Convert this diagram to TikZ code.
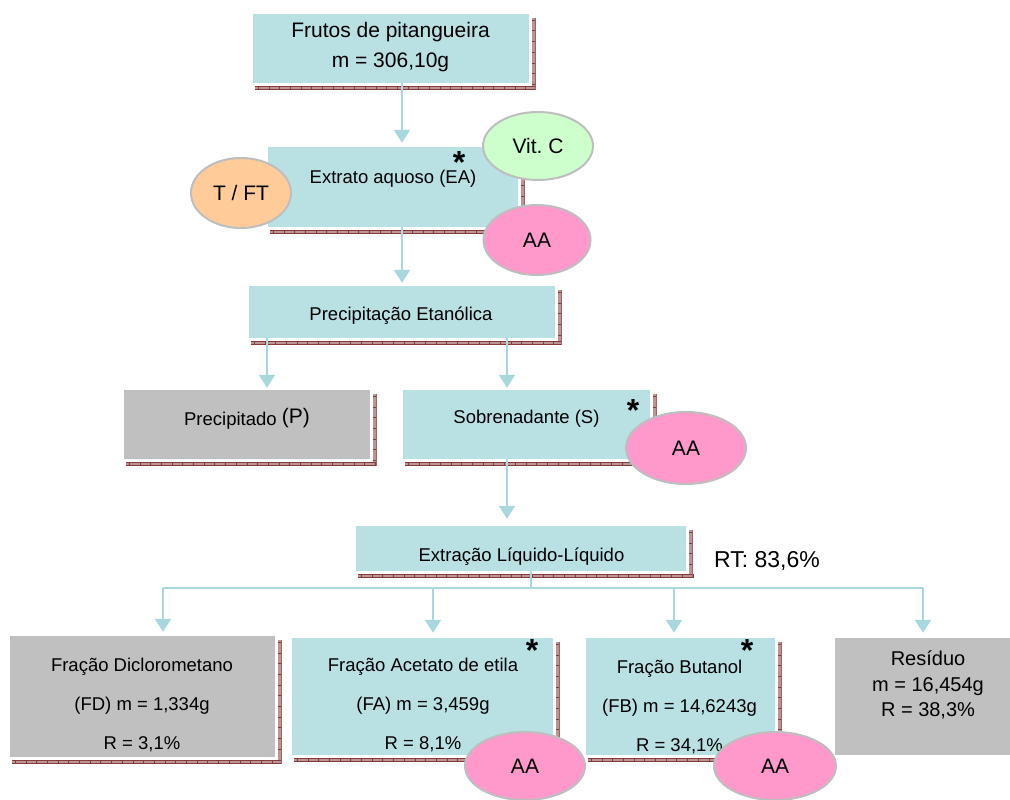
\documentclass[tikz,border=0pt]{standalone}
\usepackage{fontspec}
\setmainfont{Liberation Sans}
\frenchspacing
\usetikzlibrary{arrows.meta,shapes.geometric}
\definecolor{boxc}{HTML}{B9E0E3}
\definecolor{grayc}{HTML}{C0C0C0}
\definecolor{arrc}{HTML}{A8D8DD}
\definecolor{shfill}{HTML}{BC9494}
\definecolor{shdark}{HTML}{863C3C}
\definecolor{ellb}{HTML}{BEBEBE}
\definecolor{orangec}{HTML}{FFCC99}
\definecolor{greenc}{HTML}{CCFFCC}
\definecolor{pinkc}{HTML}{FF99CC}
\newcommand\fsA{\fontsize{18.5}{22}\selectfont}
\newcommand\fsB{\fontsize{21}{25}\selectfont}
\newcommand\boxshadow[1]{%
  \fill[shfill] ([xshift=2.5pt,yshift=-2.5pt]#1.south west) rectangle ([xshift=6.5pt,yshift=-6.5pt]#1.south east);
  \fill[shfill] ([xshift=2.5pt,yshift=-4pt]#1.north east) rectangle ([xshift=6.5pt,yshift=-6.5pt]#1.south east);
  \draw[shdark, line width=4pt, dash pattern=on 0.9pt off 9.8pt] ([xshift=5pt,yshift=-4.5pt]#1.south west) -- ([xshift=6.5pt,yshift=-4.5pt]#1.south east);
  \draw[shdark, line width=4pt, dash pattern=on 0.9pt off 9.8pt] ([xshift=4.5pt,yshift=-6pt]#1.north east) -- ([xshift=4.5pt,yshift=-2.5pt]#1.south east);
  \draw[shdark, line width=0.8pt] ([xshift=2.5pt,yshift=-2.9pt]#1.south west) -- ([xshift=6.5pt,yshift=-2.9pt]#1.south east);
  \draw[shdark, line width=0.8pt] ([xshift=2.5pt,yshift=-6.1pt]#1.south west) -- ([xshift=6.5pt,yshift=-6.1pt]#1.south east);
  \draw[shdark!80, line width=0.6pt] ([xshift=6.1pt,yshift=-4pt]#1.north east) -- ([xshift=6.1pt,yshift=-6.5pt]#1.south east);
}
\begin{document}
\begin{tikzpicture}[x=1pt,y=-1pt,
  cbox/.style={rectangle, fill=boxc, inner sep=0pt},
  gbox/.style={rectangle, fill=grayc, inner sep=0pt},
  bubble/.style={ellipse, draw=ellb, line width=2pt, inner sep=0pt, font=\fsB},
  conn/.style={draw=arrc, line width=2pt, -{Triangle[width=16pt,length=13pt]}},
  busline/.style={draw=arrc, line width=2pt},
  starmark/.style={font=\fontsize{32}{32}\selectfont\bfseries, anchor=base, inner sep=0pt},
  txt/.style={inner sep=0pt, align=center}]
\useasboundingbox (0,0) rectangle (1010,800);
\clip (0,0) rectangle (1010,800);

% boxes
\node[cbox, minimum width=276pt, minimum height=69pt] (fr) at (391,48.5) {};
\node[cbox, minimum width=250pt, minimum height=80pt] (ea) at (393,187) {};
\node[cbox, minimum width=306pt, minimum height=52pt] (pe) at (402,312) {};
\node[gbox, minimum width=246pt, minimum height=69pt] (pp) at (247,424.5) {};
\node[cbox, minimum width=247pt, minimum height=69pt] (sb) at (526.5,424.5) {};
\node[cbox, minimum width=330pt, minimum height=45pt] (ex) at (521,548.5) {};
\node[gbox, minimum width=265pt, minimum height=121pt] (fd) at (142.5,696.5) {};
\node[cbox, minimum width=261pt, minimum height=117pt] (fa) at (422.5,696.5) {};
\node[cbox, minimum width=189pt, minimum height=117pt] (fb) at (680.5,696.5) {};
\node[gbox, minimum width=186pt, minimum height=117pt] (rs) at (928,696.5) {};

% shadows
\boxshadow{fr}
\boxshadow{ea}
\boxshadow{pe}
\boxshadow{pp}
\boxshadow{sb}
\boxshadow{ex}
\boxshadow{fd}
\boxshadow{fa}
\boxshadow{fb}

% texts
\node[txt, font=\fontsize{21}{30}\selectfont] (frt) at (390.5,46.6) {Frutos de pitangueira\\m = 306,10g};
\node[txt, font=\fsA] (eat) at (393,179) {Extrato aquoso (EA)};
\node[txt, font=\fsA] (pet) at (401,316) {Precipitação Etanólica};
\node[txt, font=\fsA] (ppt) at (247,419) {Precipitado \raisebox{2pt}{\fsB(P)}};
\node[txt, font=\fsA] (sbt) at (526.5,419) {Sobrenadante (S)};
\node[txt, font=\fsA] (ext) at (521.5,557) {Extração Líquido-Líquido};
\node[txt, font=\fontsize{23}{27}\selectfont] (rt) at (767,561) {RT: 83,6\%};
\node[txt, font=\fontsize{18.5}{39}\selectfont] (fdt) at (142,705) {Fração Diclorometano\\(FD) m = 1,334g\\R = 3,1\%};
\node[txt, font=\fontsize{18.5}{39}\selectfont] (fat) at (423,705) {Fração Acetato de etila\\(FA) m = 3,459g\\R = 8,1\%};
\node[txt, font=\fontsize{18.5}{39}\selectfont] (fbt) at (679.5,707) {Fração Butanol\\(FB) m = 14,6243g\\R = 34,1\%};
\node[txt, font=\fontsize{20}{25.5}\selectfont] (rst) at (928,685) {Resíduo\\m = 16,454g\\R = 38,3\%};

% connectors
\draw[conn] ([xshift=11pt]fr.south) -- ([xshift=9pt,yshift=4pt]ea.north);
\draw[conn] ([xshift=9pt]ea.south) -- ([yshift=3pt]pe.north);
\draw[conn] ([xshift=20pt]pp.north |- pe.south) -- ([xshift=20pt,yshift=2pt]pp.north);
\draw[conn] ([xshift=-19.5pt]sb.north |- pe.south) -- ([xshift=-19.5pt,yshift=2pt]sb.north);
\draw[conn, shorten >=7pt] ([xshift=-19.5pt]sb.south) -- ([xshift=-19.5pt]sb.south |- ex.north);
\coordinate (bus) at (531,588);
\coordinate (bl) at (163,588);
\coordinate (bA) at (433,588);
\coordinate (bB) at (674,588);
\coordinate (br) at (923,588);
\draw[busline] ([xshift=10pt]ex.south) -- (bus);
\draw[busline] (bl) -- (br);
\draw[conn, shorten >=4pt] (bl) -- (bl |- fd.north);
\draw[conn, shorten >=5pt] (bA) -- (bA |- fa.north);
\draw[conn, shorten >=5pt] (bB) -- (bB |- fb.north);
\draw[conn, shorten >=5pt] (br) -- (br |- rs.north);

% stars
\node[starmark] (st1) at (459,173) {*};
\node[starmark] (st2) at (633,421) {*};
\node[starmark] (st3) at (532,661) {*};
\node[starmark] (st4) at (747,661) {*};

% ellipses
\node[bubble, fill=orangec, minimum width=100pt, minimum height=70pt] (tft) at (241,193) {T / FT};
\node[bubble, fill=greenc, minimum width=110pt, minimum height=68pt] (vitc) at (538,146) {Vit. C};
\node[bubble, fill=pinkc, minimum width=107pt, minimum height=70pt] (aa1) at (537,240) {AA};
\node[bubble, fill=pinkc, minimum width=120pt, minimum height=72pt] (aa2) at (686,448) {AA};
\node[bubble, fill=pinkc, minimum width=120pt, minimum height=68pt] (aa3) at (525,766) {AA};
\node[bubble, fill=pinkc, minimum width=122pt, minimum height=68pt] (aa4) at (775,766) {AA};
\end{tikzpicture}
\end{document}
